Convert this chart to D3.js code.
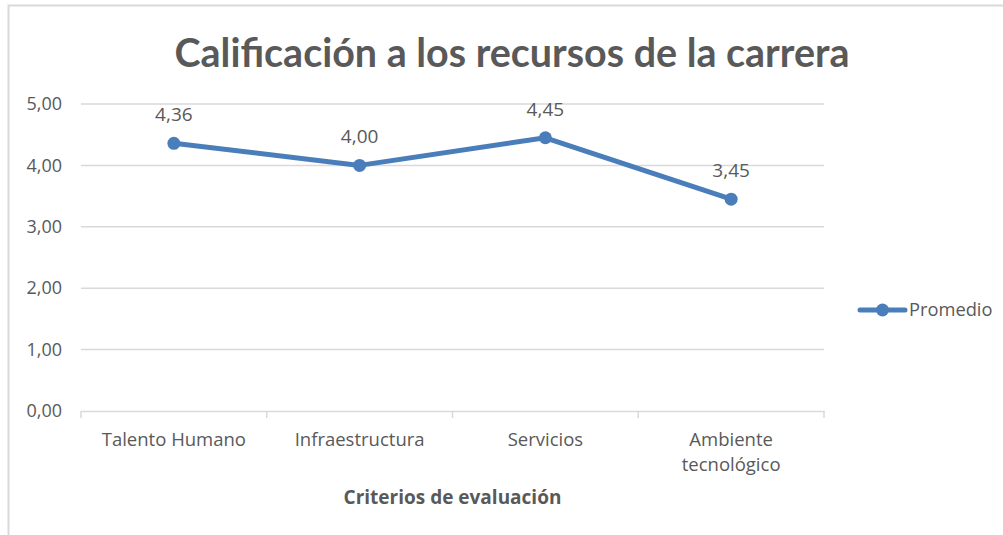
<!DOCTYPE html>
<html>
<head>
<meta charset="utf-8">
<script src="https://cdn.jsdelivr.net/npm/d3@7"></script>
<style>
  body { margin: 0; background: #fff; }
  svg text { font-family: "Open Sans", Lato, sans-serif; fill: #595959; }
</style>
</head>
<body>
<div id="chart"></div>
<script>
// data
var categories = ["Talento Humano", "Infraestructura", "Servicios", "Ambiente tecnológico"];
var promedio = [4.36, 4.00, 4.45, 3.45];
var yTicks = [0, 1, 2, 3, 4, 5];
var seriesName = "Promedio";

var W = 1003, H = 535;
var margin = { top: 104, left: 81, right: 179, bottom: 124 };
var width = W - margin.left - margin.right,
    height = H - margin.top - margin.bottom;

var fmt = function (v) { return d3.format(".2f")(v).replace(".", ","); };

var svg = d3.select("#chart").append("svg")
    .attr("width", W).attr("height", H);

// chart box border (left + top)
svg.append("path")
    .attr("d", "M8.5,535 L8.5,5.5 L1003,5.5")
    .attr("fill", "none").attr("stroke", "#d9d9d9").attr("stroke-width", 2);

// title
svg.append("text")
    .attr("x", 512).attr("y", 67)
    .attr("text-anchor", "middle")
    .attr("font-size", 40).attr("font-weight", "bold")
    .style("font-family", "Lato, sans-serif")
    .attr("textLength", 675).attr("lengthAdjust", "spacingAndGlyphs")
    .text("Calificación a los recursos de la carrera");

var g = svg.append("g").attr("transform", "translate(" + margin.left + "," + margin.top + ")");

var x = d3.scaleBand().domain(categories).range([0, width]);
var y = d3.scaleLinear().domain([0, 5]).range([height, 0]);

// gridlines
g.selectAll(".grid").data(yTicks.filter(function (d) { return d > 0; })).enter()
    .append("line")
    .attr("x1", 0).attr("x2", width)
    .attr("y1", function (d) { return y(d); }).attr("y2", function (d) { return y(d); })
    .attr("stroke", "#d9d9d9").attr("stroke-width", 1.5);

// y axis labels
var yAxis = g.append("g")
    .call(d3.axisLeft(y).tickValues(yTicks).tickFormat(fmt).tickSize(0).tickPadding(19));
yAxis.select(".domain").remove();
yAxis.selectAll("text").attr("font-size", 18).attr("fill", "#595959")
    .style("font-family", "'Open Sans', sans-serif");

// x axis
var xAxis = g.append("g").attr("transform", "translate(0," + height + ")")
    .call(d3.axisBottom(x).tickSize(0).tickFormat(""));
xAxis.select(".domain").attr("stroke", "#d9d9d9").attr("stroke-width", 1.5);
xAxis.selectAll(".tick").remove();
var bounds = categories.map(function (c) { return x(c); }).concat([width]);
xAxis.selectAll(".sep").data(bounds).enter().append("line")
    .attr("x1", function (d) { return d; }).attr("x2", function (d) { return d; })
    .attr("y1", 0).attr("y2", 7)
    .attr("stroke", "#d9d9d9").attr("stroke-width", 1.5);

// category labels (wrapped like Excel)
var wrapped = { "Ambiente tecnológico": ["Ambiente", "tecnológico"] };
categories.forEach(function (c) {
    var lines = wrapped[c] || [c];
    var t = g.append("text")
        .attr("x", x(c) + x.bandwidth() / 2).attr("y", height + 35)
        .attr("text-anchor", "middle").attr("font-size", 18.5);
    lines.forEach(function (l, i) {
        t.append("tspan").attr("x", x(c) + x.bandwidth() / 2)
            .attr("dy", i === 0 ? 0 : 25).text(l);
    });
});

// axis title
svg.append("text")
    .attr("x", margin.left + width / 2).attr("y", 504)
    .attr("text-anchor", "middle").attr("font-size", 19).attr("font-weight", "bold")
    .text("Criterios de evaluación");

// line
var lineColor = "#4a7ebb";
var line = d3.line()
    .x(function (d, i) { return x(categories[i]) + x.bandwidth() / 2; })
    .y(function (d) { return y(d); });

g.append("path").datum(promedio)
    .attr("d", line)
    .attr("fill", "none").attr("stroke", lineColor)
    .attr("stroke-width", 5).attr("stroke-linejoin", "round");

g.selectAll(".dot").data(promedio).enter().append("circle")
    .attr("cx", function (d, i) { return x(categories[i]) + x.bandwidth() / 2; })
    .attr("cy", function (d) { return y(d); })
    .attr("r", 6.5).attr("fill", lineColor);

// data labels
g.selectAll(".lbl").data(promedio).enter().append("text")
    .attr("x", function (d, i) { return x(categories[i]) + x.bandwidth() / 2; })
    .attr("y", function (d) { return y(d) - 22; })
    .attr("text-anchor", "middle").attr("font-size", 19)
    .text(fmt);

// legend
var lg = svg.append("g").attr("transform", "translate(860,310)");
lg.append("line").attr("x1", 0).attr("x2", 45).attr("y1", 0).attr("y2", 0)
    .attr("stroke", lineColor).attr("stroke-width", 5).attr("stroke-linecap", "round");
lg.append("circle").attr("cx", 22.5).attr("cy", 0).attr("r", 6.5).attr("fill", lineColor);
lg.append("text").attr("x", 49).attr("y", 6).attr("font-size", 18.3).text(seriesName);
</script>
</body>
</html>
